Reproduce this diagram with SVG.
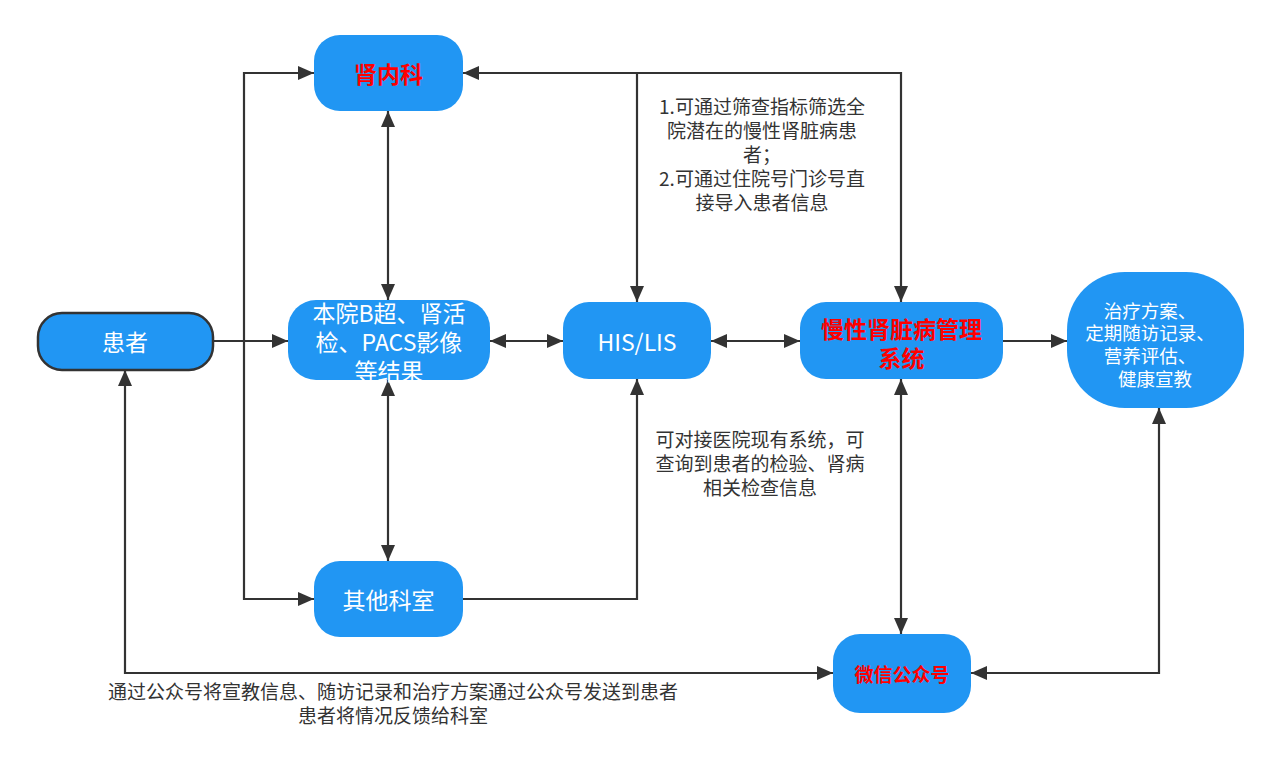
<svg xmlns="http://www.w3.org/2000/svg" width="1281" height="761" viewBox="0 0 1281 761">
<style>
.n{fill:#2196F3;}
.t{font-family:"Noto Sans CJK SC","Microsoft YaHei",sans-serif;fill:#fff;font-size:23px;text-anchor:middle;dominant-baseline:central;}
.r{fill:#FF0000;font-weight:bold;}
.c{fill:none;stroke:#333;stroke-width:2.2;}
.l{font-family:"Noto Sans CJK SC",sans-serif;fill:#333;font-size:19px;text-anchor:middle;dominant-baseline:central;}
</style>
<defs>
<marker id="a" viewBox="0 0 16 14" refX="16" refY="7" markerWidth="16" markerHeight="14" markerUnits="userSpaceOnUse" orient="auto-start-reverse">
<path d="M0,0 L16,7 L0,14 Z" fill="#333"/>
</marker>
</defs>
<rect width="1281" height="761" fill="#fff"/>
<g id="connectors">
<path class="c" d="M213,341 H288" marker-end="url(#a)"/>
<path class="c" d="M314,73 H244 V599 H314" marker-start="url(#a)" marker-end="url(#a)"/>
<path class="c" d="M388,111 V300" marker-start="url(#a)" marker-end="url(#a)"/>
<path class="c" d="M388,380 V561" marker-start="url(#a)" marker-end="url(#a)"/>
<path class="c" d="M490,341 H563" marker-start="url(#a)" marker-end="url(#a)"/>
<path class="c" d="M711,341 H800" marker-start="url(#a)" marker-end="url(#a)"/>
<path class="c" d="M463,73 H901 V302" marker-start="url(#a)" marker-end="url(#a)"/>
<path class="c" d="M637,73 V302" marker-end="url(#a)"/>
<path class="c" d="M463,599 H637 V379" marker-end="url(#a)"/>
<path class="c" d="M1003,341 H1067" marker-end="url(#a)"/>
<path class="c" d="M901,379 V634" marker-start="url(#a)" marker-end="url(#a)"/>
<path class="c" d="M125,370 V673 H833" marker-start="url(#a)" marker-end="url(#a)"/>
<path class="c" d="M1159,408 V673 H971" marker-start="url(#a)" marker-end="url(#a)"/>
<text class="l"><tspan x="762" y="105">1.可通过筛查指标筛选全</tspan><tspan x="762" y="129">院潜在的慢性肾脏病患</tspan><tspan x="762" y="153">者；</tspan><tspan x="762" y="177">2.可通过住院号门诊号直</tspan><tspan x="762" y="201">接导入患者信息</tspan></text>
<text class="l"><tspan x="760" y="438">可对接医院现有系统，可</tspan><tspan x="760" y="462">查询到患者的检验、肾病</tspan><tspan x="760" y="486">相关检查信息</tspan></text>
<text class="l"><tspan x="393" y="690">通过公众号将宣教信息、随访记录和治疗方案通过公众号发送到患者</tspan><tspan x="393" y="714">患者将情况反馈给科室</tspan></text>
</g>
<g id="shennei">
<rect class="n" x="314" y="35" width="149" height="76" rx="26"/>
<text class="t r" x="388.5" y="73">肾内科</text>
</g>
<g id="huanzhe">
<rect class="n" x="38" y="313" width="175" height="57" rx="24" stroke="#333" stroke-width="2.5"/>
<text class="t" x="125" y="341">患者</text>
</g>
<g id="benyuan">
<rect class="n" x="288" y="300" width="202" height="80" rx="28"/>
<text class="t"><tspan x="389" y="312">本院B超、肾活</tspan><tspan x="389" y="341">检、PACS影像</tspan><tspan x="389" y="370">等结果</tspan></text>
</g>
<g id="hislis">
<rect class="n" x="563" y="302" width="148" height="77" rx="26"/>
<text class="t" x="637" y="341">HIS/LIS</text>
</g>
<g id="manxing">
<rect class="n" x="800" y="302" width="203" height="77" rx="26"/>
<text class="t r"><tspan x="901.5" y="328">慢性肾脏病管理</tspan><tspan x="901.5" y="357">系统</tspan></text>
</g>
<g id="zhiliao">
<rect class="n" x="1067" y="272" width="177" height="136" rx="58"/>
<text class="t" style="font-size:18.5px"><tspan x="1150" y="310">治疗方案、</tspan><tspan x="1150" y="332">定期随访记录、</tspan><tspan x="1150" y="355">营养评估、</tspan><tspan x="1155" y="378">健康宣教</tspan></text>
</g>
<g id="qita">
<rect class="n" x="314" y="561" width="149" height="76" rx="26"/>
<text class="t" x="388.5" y="599">其他科室</text>
</g>
<g id="weixin">
<rect class="n" x="833" y="634" width="138" height="79" rx="27"/>
<text class="t r" style="font-size:19px" x="902" y="673">微信公众号</text>
</g>
</svg>
